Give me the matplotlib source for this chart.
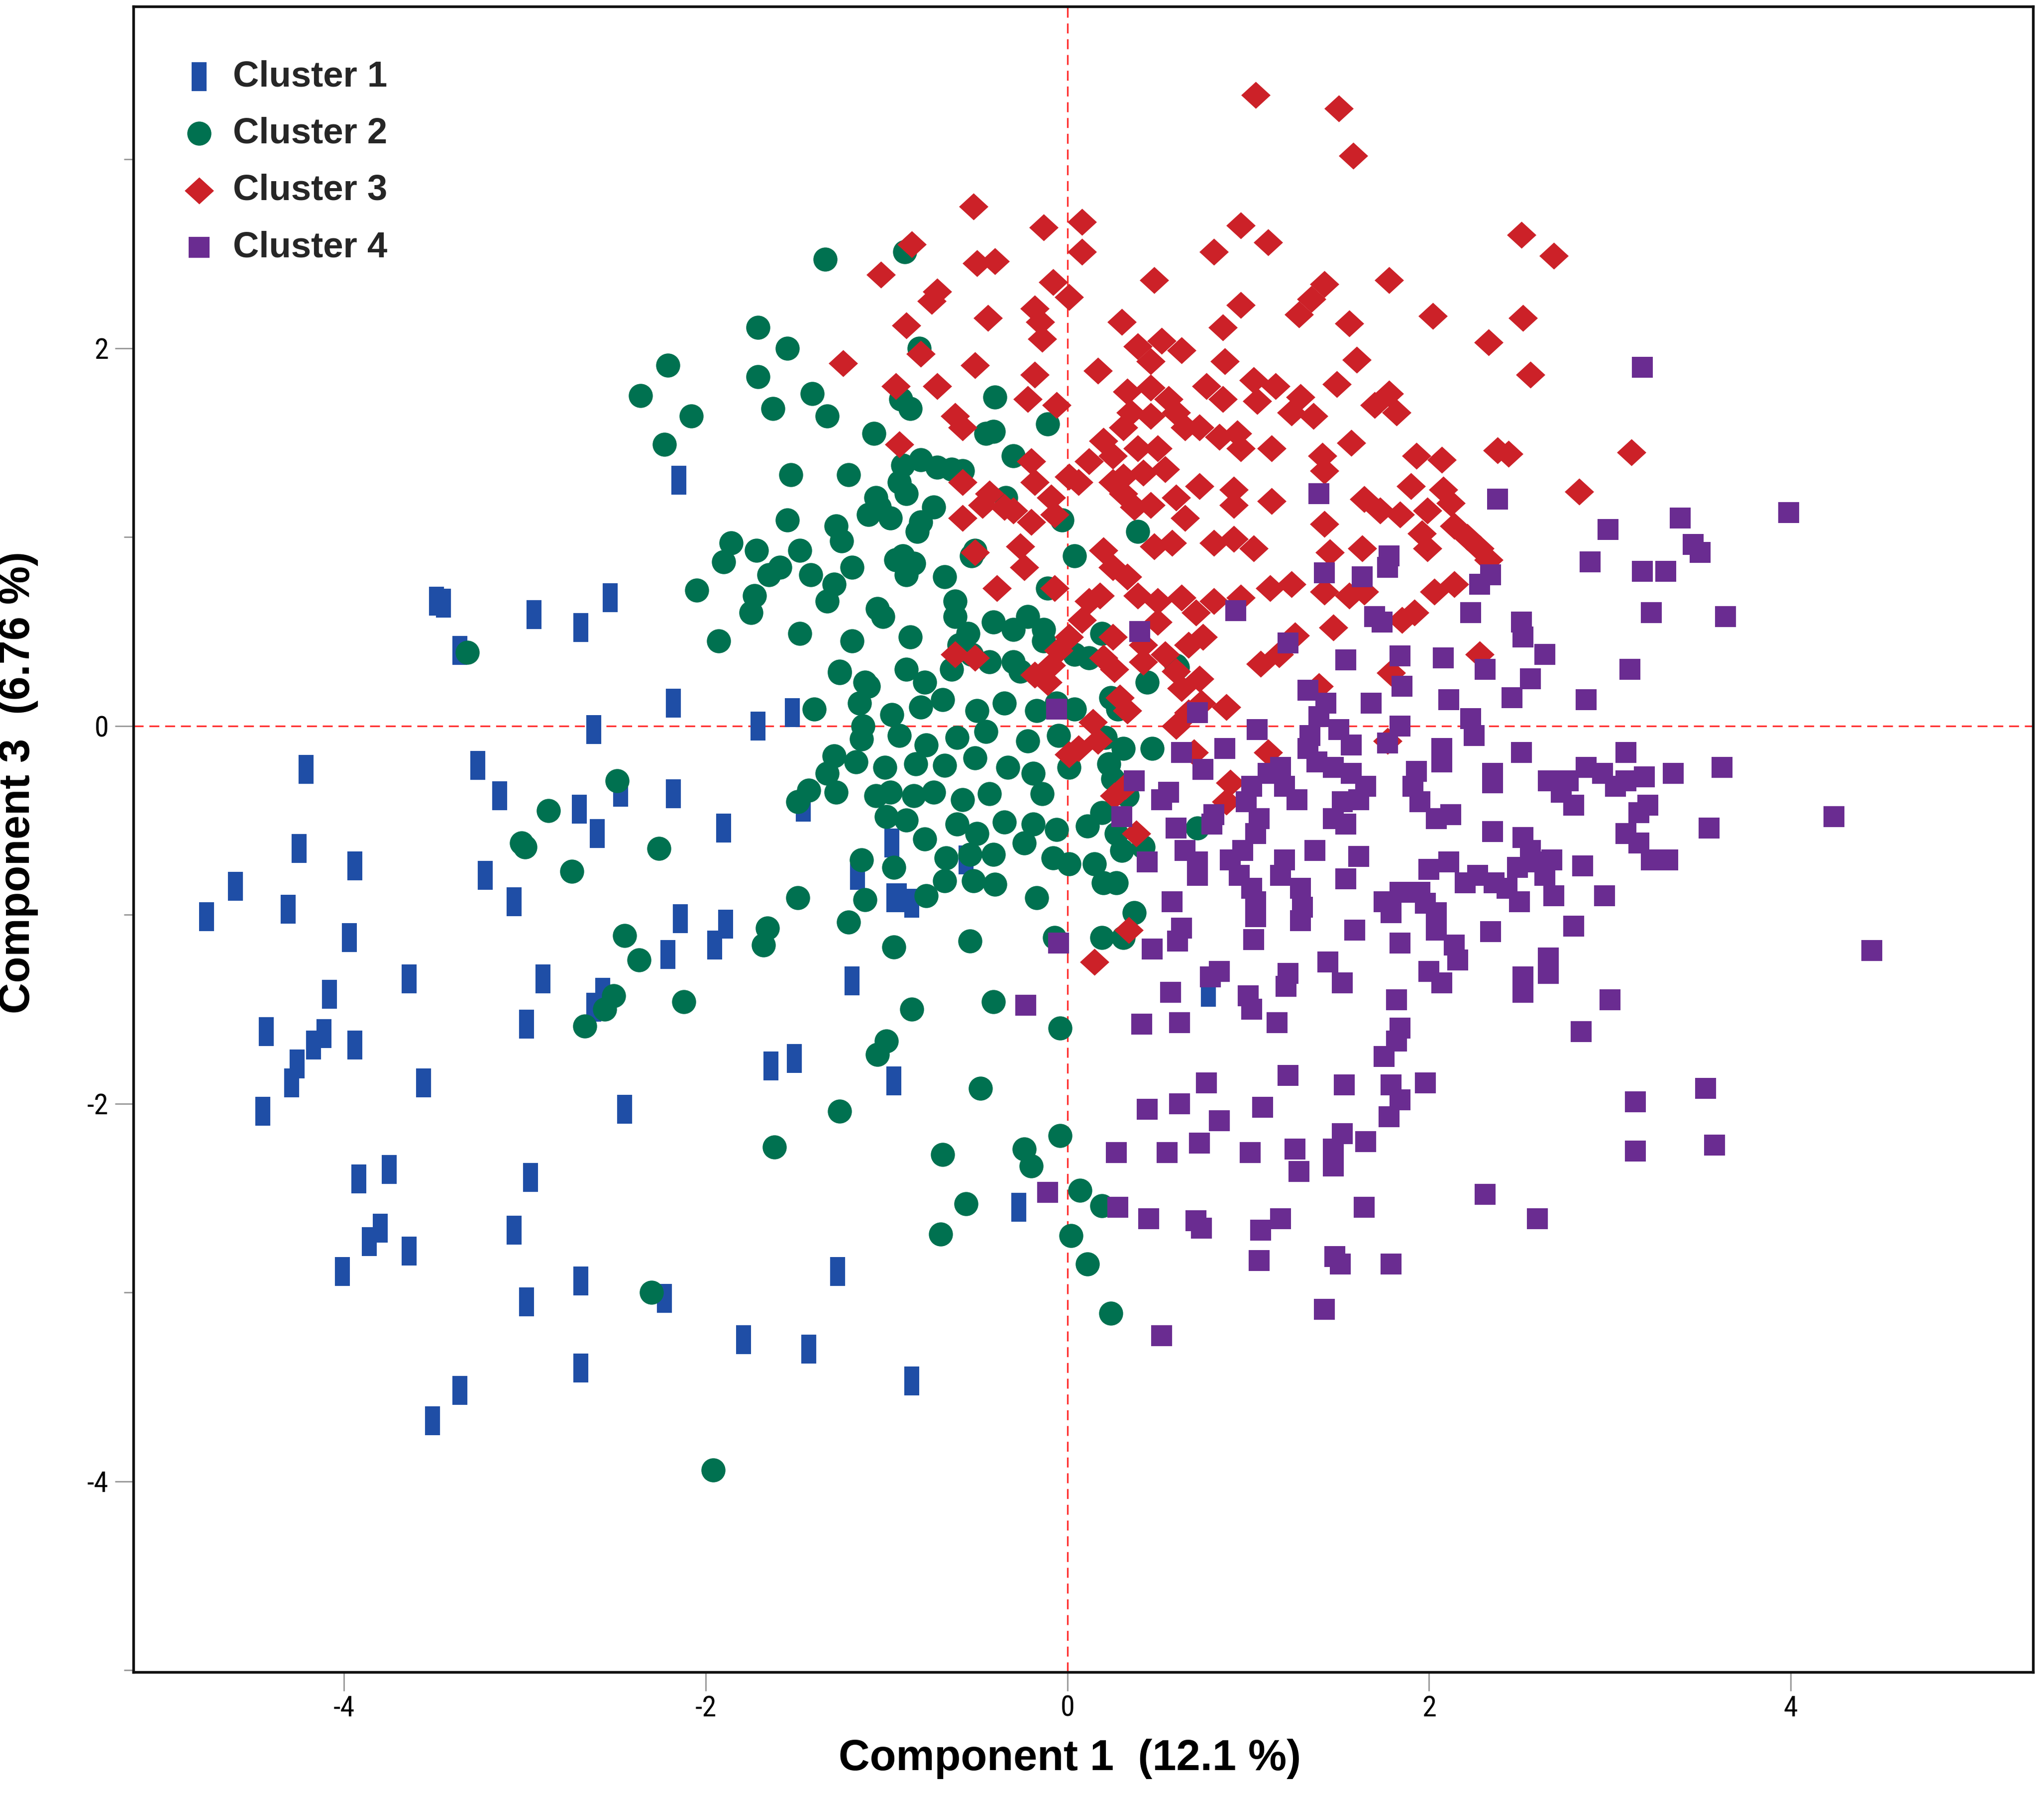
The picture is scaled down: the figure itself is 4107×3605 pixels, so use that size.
import numpy as np
import matplotlib
matplotlib.use('Agg')
import matplotlib.pyplot as plt
from matplotlib.path import Path
from matplotlib import font_manager

plt.rcParams['axes.unicode_minus'] = False

# cluster scores (Component 1, Component 3)
cluster1 = [
    (-2.15, 1.30), (-3.49, 0.66), (-3.45, 0.65), (-3.36, 0.40), (-2.95, 0.59), (-2.69, 0.52),
    (-2.53, 0.68), (-2.18, 0.12), (-2.62, -0.02), (-1.71, 0.00), (-1.52, 0.07), (-4.21, -0.23),
    (-3.26, -0.21), (-3.14, -0.37), (-2.70, -0.44), (-2.60, -0.57), (-2.47, -0.35), (-2.18, -0.36),
    (-1.90, -0.54), (-1.46, -0.43), (-4.25, -0.65), (-3.94, -0.74), (-3.22, -0.79), (-3.06, -0.93),
    (-4.76, -1.01), (-4.60, -0.85), (-4.31, -0.97), (-3.97, -1.12), (-2.14, -1.02), (-1.89, -1.05),
    (-1.95, -1.16), (-2.21, -1.21), (-2.90, -1.34), (-3.64, -1.34), (-4.08, -1.42), (-2.57, -1.41),
    (-2.62, -1.49), (-2.99, -1.58), (-4.43, -1.62), (-4.11, -1.63), (-4.17, -1.69), (-3.94, -1.69),
    (-4.26, -1.79), (-4.29, -1.89), (-3.56, -1.89), (-4.45, -2.04), (-2.45, -2.03), (-1.64, -1.80),
    (-1.51, -1.76), (-3.92, -2.40), (-3.75, -2.35), (-2.97, -2.39), (-3.80, -2.66), (-3.86, -2.73),
    (-3.64, -2.78), (-3.06, -2.67), (-4.01, -2.89), (-2.69, -2.94), (-2.99, -3.05), (-2.23, -3.03),
    (-1.27, -2.89), (-1.79, -3.25), (-1.43, -3.30), (-2.69, -3.40), (-3.36, -3.52), (-3.51, -3.68),
    (-0.86, -3.47), (-0.27, -2.55), (-1.19, -1.35), (-0.96, -1.88), (-0.97, -0.62), (-1.16, -0.79),
    (-0.96, -0.91), (-0.93, -0.91), (-0.86, -0.94), (-0.56, -0.71), (0.78, -1.41),
]

cluster2 = [
    (-1.34, 2.47), (-0.90, 2.51), (-1.71, 2.11), (-1.55, 2.00), (-1.71, 1.85), (-1.63, 1.68),
    (-1.41, 1.76), (-1.33, 1.64), (-0.82, 2.00), (-0.92, 1.73), (-0.87, 1.68), (-0.40, 1.74),
    (-1.07, 1.55), (-0.45, 1.55), (-0.41, 1.56), (-0.11, 1.60), (-0.30, 1.43), (-1.53, 1.33),
    (-1.21, 1.33), (-0.91, 1.38), (-0.81, 1.41), (-0.72, 1.37), (-0.64, 1.36), (-0.58, 1.35),
    (-0.93, 1.29), (-1.06, 1.21), (-0.89, 1.23), (-0.98, 1.10), (-1.04, 1.16), (-1.10, 1.12),
    (-0.74, 1.16), (-0.81, 1.08), (-0.83, 1.03), (-0.34, 1.21), (-0.03, 1.09), (-1.55, 1.09),
    (-1.28, 1.06), (-1.25, 0.98), (-1.72, 0.93), (-1.48, 0.93), (-1.59, 0.84), (-1.65, 0.80),
    (-1.42, 0.80), (-1.19, 0.84), (-1.29, 0.75), (-1.33, 0.66), (-0.95, 0.88), (-0.89, 0.80),
    (-0.85, 0.86), (-0.91, 0.90), (-0.68, 0.79), (-0.62, 0.66), (-0.62, 0.58), (-0.51, 0.93),
    (-0.53, 0.90), (0.04, 0.90), (0.39, 1.03), (-0.11, 0.73), (-1.73, 0.69), (-1.75, 0.60),
    (-1.05, 0.62), (-1.02, 0.58), (-1.48, 0.49), (-1.19, 0.45), (-0.87, 0.47), (-0.55, 0.49),
    (-0.60, 0.43), (-0.41, 0.55), (-0.30, 0.51), (-0.22, 0.58), (-0.13, 0.51), (-0.13, 0.45),
    (0.19, 0.49), (-1.26, 0.29), (-1.10, 0.21), (-0.89, 0.30), (-0.79, 0.23), (-0.64, 0.30),
    (-0.53, 0.38), (-0.43, 0.34), (-0.30, 0.34), (-0.26, 0.29), (0.04, 0.38), (0.12, 0.36),
    (0.60, 0.32), (0.44, 0.23), (-1.26, 0.28), (-1.12, 0.23), (-2.21, 1.91), (-2.36, 1.75),
    (-2.08, 1.64), (-2.23, 1.49), (-1.86, 0.97), (-1.90, 0.87), (-2.05, 0.72), (-1.93, 0.45),
    (-3.32, 0.39), (0.24, 0.15), (0.61, 0.31),
    (-1.40, 0.09), (-1.15, 0.12), (-0.97, 0.06), (-0.81, 0.10), (-0.69, 0.14), (-0.50, 0.08),
    (-0.35, 0.12), (-0.17, 0.08), (-0.06, 0.12), (0.04, 0.09), (0.28, 0.09), (-1.13, 0.00),
    (-1.14, -0.07), (-0.93, -0.05), (-0.78, -0.10), (-0.61, -0.06), (-0.45, -0.03), (-0.22, -0.08),
    (-0.05, -0.05), (0.21, -0.06), (0.31, -0.12), (0.47, -0.12), (-1.29, -0.16), (-1.33, -0.25),
    (-1.17, -0.19), (-1.01, -0.22), (-0.84, -0.20), (-0.68, -0.21), (-0.51, -0.17), (-0.33, -0.22),
    (-0.19, -0.25), (0.01, -0.22), (0.23, -0.20), (-1.43, -0.34), (-1.49, -0.40), (-1.28, -0.35),
    (-1.06, -0.37), (-0.98, -0.35), (-0.85, -0.37), (-0.74, -0.35), (-0.58, -0.39), (-0.43, -0.36),
    (-0.14, -0.36), (0.25, -0.28), (0.33, -0.37), (0.19, -0.46), (-1.00, -0.48), (-0.89, -0.50),
    (-0.61, -0.52), (-0.50, -0.57), (-0.35, -0.51), (-0.19, -0.52), (-0.06, -0.55), (0.11, -0.53),
    (0.27, -0.57), (0.72, -0.54), (-0.79, -0.60), (-0.67, -0.70), (-0.54, -0.68), (-0.41, -0.68),
    (-0.24, -0.62), (-0.08, -0.70), (0.01, -0.73), (0.15, -0.73), (0.30, -0.66), (0.42, -0.64),
    (-3.02, -0.62), (-3.00, -0.64), (-2.87, -0.45), (-2.74, -0.77), (-2.26, -0.65), (-2.49, -0.29),
    (-1.14, -0.71), (-0.96, -0.75), (-0.68, -0.82), (-0.52, -0.82), (-0.40, -0.84), (-0.17, -0.91),
    (0.20, -0.83), (0.27, -0.83), (-1.49, -0.91), (-1.12, -0.92), (-0.78, -0.90), (-1.21, -1.04),
    (-1.66, -1.07), (-1.68, -1.16), (-0.96, -1.17), (-0.54, -1.14), (-0.07, -1.12), (0.19, -1.12),
    (0.31, -1.12), (0.37, -0.99), (-2.45, -1.11), (-2.37, -1.24), (-2.51, -1.43), (-2.56, -1.50),
    (-2.67, -1.59), (-2.12, -1.46), (-0.86, -1.50), (-0.41, -1.46), (-0.04, -1.60), (-1.00, -1.67),
    (-1.05, -1.74), (-0.48, -1.92), (-1.26, -2.04), (-1.62, -2.23), (-0.69, -2.27), (-0.24, -2.24),
    (-0.20, -2.33), (-0.04, -2.17), (-0.56, -2.53), (-0.70, -2.69), (0.07, -2.46), (0.19, -2.54),
    (0.02, -2.70), (0.11, -2.85), (-2.30, -3.00), (0.24, -3.11), (-1.96, -3.94),
]

cluster3 = [
    (-0.52, 2.75), (-0.13, 2.64), (0.08, 2.67), (0.08, 2.51), (-0.86, 2.55), (-0.50, 2.45),
    (-0.40, 2.46), (-1.03, 2.39), (-0.72, 2.30), (-0.75, 2.25), (-0.08, 2.35), (0.01, 2.27),
    (0.96, 2.65), (0.81, 2.51), (0.48, 2.36), (0.96, 2.23), (-0.89, 2.12), (-0.44, 2.16),
    (-0.18, 2.21), (-0.15, 2.14), (-0.14, 2.05), (0.30, 2.14), (0.86, 2.11), (-0.81, 1.97),
    (-1.24, 1.92), (-0.51, 1.91), (-0.18, 1.86), (0.17, 1.88), (0.39, 2.01), (0.52, 2.04),
    (0.63, 1.99), (0.46, 1.93), (0.87, 1.93), (-0.95, 1.80), (-0.72, 1.80), (-0.22, 1.73),
    (-0.06, 1.70), (-0.62, 1.64), (-0.58, 1.58), (-0.93, 1.49), (0.33, 1.77), (0.46, 1.79),
    (0.56, 1.73), (0.35, 1.66), (0.46, 1.64), (0.60, 1.66), (0.65, 1.58), (0.77, 1.80),
    (0.86, 1.73), (0.73, 1.58), (0.84, 1.53), (0.94, 1.55), (0.96, 1.47), (0.20, 1.51),
    (0.31, 1.58), (0.12, 1.40), (0.25, 1.43), (0.39, 1.47), (0.50, 1.47), (0.54, 1.36),
    (0.42, 1.34), (0.31, 1.32), (0.25, 1.29), (0.01, 1.32), (-0.20, 1.40), (-0.18, 1.29),
    (-0.43, 1.23), (-0.58, 1.29), (-0.58, 1.10), (-0.47, 1.17), (-0.30, 1.14), (-0.26, 0.95),
    (-0.24, 0.84), (-0.09, 1.21), (-0.07, 1.12), (-0.20, 1.08), (0.06, 1.29), (0.31, 1.23),
    (0.37, 1.16), (0.46, 1.17), (0.60, 1.21), (0.73, 1.27), (0.92, 1.25), (0.92, 1.17),
    (0.65, 1.10), (0.48, 0.95), (0.58, 0.97), (0.81, 0.97), (0.92, 0.99), (0.20, 0.93),
    (0.25, 0.84), (0.18, 0.69), (0.33, 0.79), (0.39, 0.69), (0.50, 0.66), (0.63, 0.68),
    (0.71, 0.60), (0.81, 0.66), (0.96, 0.68), (-0.39, 0.73), (-0.51, 0.92), (-0.51, 0.36),
    (-0.07, 0.73), (0.12, 0.66), (0.08, 0.56), (0.01, 0.47), (-0.05, 0.40), (0.25, 0.47),
    (0.20, 0.36), (0.50, 0.55), (0.42, 0.43), (0.54, 0.38), (0.67, 0.43), (0.75, 0.47),
    (0.60, 0.29), (0.73, 0.25), (1.17, 0.38), (-0.09, 0.32), (-0.11, 0.23), (-0.62, 0.38),
    (-0.35, 1.16), (-0.18, 0.27),
    (1.04, 3.34), (1.50, 3.27), (1.58, 3.02), (1.11, 2.56), (1.78, 2.36), (1.42, 2.34),
    (1.35, 2.26), (1.28, 2.18), (1.56, 2.13), (2.02, 2.17), (2.51, 2.60), (2.69, 2.49),
    (2.52, 2.16), (2.33, 2.03), (2.56, 1.86), (1.60, 1.94), (1.49, 1.81), (1.03, 1.83),
    (1.15, 1.80), (1.05, 1.72), (1.29, 1.74), (1.36, 1.64), (1.24, 1.66), (1.78, 1.76),
    (1.82, 1.66), (1.70, 1.70), (1.57, 1.50), (1.13, 1.47), (1.41, 1.43), (1.42, 1.35),
    (1.93, 1.43), (2.07, 1.41), (2.38, 1.46), (2.44, 1.44), (3.12, 1.45), (2.83, 1.24),
    (1.90, 1.27), (2.08, 1.25), (1.13, 1.19), (1.42, 1.07), (1.64, 1.20), (1.73, 1.14),
    (1.84, 1.12), (1.99, 1.14), (2.12, 1.18), (2.14, 1.06), (1.96, 1.02), (1.99, 0.94),
    (2.21, 1.00), (2.28, 0.94), (2.33, 0.88), (1.03, 0.94), (1.45, 0.92), (1.63, 0.94),
    (1.12, 0.73), (1.24, 0.75), (1.42, 0.71), (1.56, 0.69), (1.64, 0.71), (2.03, 0.71),
    (2.14, 0.75), (1.85, 0.56), (1.92, 0.60), (1.26, 0.48), (1.47, 0.52),
    (2.28, 0.38), (1.79, 0.28), (1.39, 0.21), (1.77, -0.08), (1.11, -0.14), (0.70, -0.14),
    (0.90, -0.30), (0.88, -0.40), (0.26, -0.37), (0.38, -0.57), (0.34, -1.08), (0.15, -1.25),
    (0.88, 0.10), (0.74, 0.12), (0.63, 0.20), (0.29, 0.15), (0.33, 0.08), (0.60, 0.00),
    (0.17, -0.08), (1.07, 0.33), (0.42, 0.34), (0.26, 0.30), (0.06, -0.12), (0.01, -0.15),
    (0.14, 0.02), (0.32, -0.32), (0.67, 0.07),
]

cluster4 = [
    (3.23, 0.60), (3.64, 0.58), (2.23, 0.60), (2.51, 0.55), (2.52, 0.47), (2.64, 0.38),
    (3.11, 0.30), (1.70, 0.58), (1.84, 0.37), (2.08, 0.36), (2.31, 0.30), (2.56, 0.25),
    (2.46, 0.15), (2.87, 0.14), (2.11, 0.14), (1.85, 0.21), (1.68, 0.12), (1.54, 0.35),
    (1.33, 0.19), (1.43, 0.12), (1.39, 0.05), (1.05, -0.02), (1.84, 0.00), (2.23, 0.04),
    (2.25, -0.05), (1.50, -0.02), (1.34, -0.05), (1.33, -0.12), (1.38, -0.19), (1.47, -0.22),
    (1.57, -0.10), (1.57, -0.25), (1.65, -0.32), (1.61, -0.39), (1.52, -0.40), (1.47, -0.49),
    (1.54, -0.52), (0.87, -0.12), (0.63, -0.14), (0.75, -0.23), (0.37, -0.29), (0.56, -0.35),
    (0.52, -0.39), (1.02, -0.32), (1.11, -0.25), (1.18, -0.22), (1.20, -0.32), (1.27, -0.39),
    (0.99, -0.40), (1.06, -0.49), (1.04, -0.57), (0.97, -0.66), (0.90, -0.71), (0.95, -0.79),
    (1.02, -0.86), (1.04, -0.93), (1.04, -1.01), (1.03, -1.13), (0.81, -0.47), (0.80, -0.52),
    (0.60, -0.54), (0.65, -0.66), (0.72, -0.72), (0.72, -0.79), (0.44, -0.72), (0.58, -0.93),
    (1.77, -0.09), (1.93, -0.24), (1.91, -0.32), (1.95, -0.40), (2.04, -0.49), (2.12, -0.47),
    (2.07, -0.12), (2.07, -0.19), (2.35, -0.25), (2.35, -0.30), (2.51, -0.14), (2.66, -0.29),
    (2.73, -0.35), (2.80, -0.42), (2.77, -0.29), (2.87, -0.22), (2.96, -0.25), (3.03, -0.32),
    (3.09, -0.29), (3.19, -0.27), (3.21, -0.42), (3.16, -0.46), (3.35, -0.25), (3.09, -0.14),
    (3.62, -0.22), (3.55, -0.54), (3.09, -0.57), (3.16, -0.62), (3.23, -0.71), (3.32, -0.71),
    (2.35, -0.56), (2.52, -0.59), (2.56, -0.66), (2.60, -0.72), (2.68, -0.71), (2.64, -0.79),
    (2.69, -0.90), (2.85, -0.74), (2.97, -0.90), (2.11, -0.72), (2.20, -0.83), (2.27, -0.79),
    (2.36, -0.83), (2.43, -0.86), (2.50, -0.93), (2.49, -0.75), (2.00, -0.76), (1.61, -0.69),
    (1.54, -0.81), (1.37, -0.66), (1.20, -0.71), (1.18, -0.79), (1.29, -0.86), (1.30, -0.96),
    (1.29, -1.03), (1.75, -0.93), (1.84, -0.88), (1.95, -0.88), (1.79, -0.99), (1.98, -0.94),
    (2.04, -0.99), (2.04, -1.08), (2.14, -1.16), (2.16, -1.24), (2.00, -1.30), (2.07, -1.36),
    (1.59, -1.08), (1.84, -1.15), (2.34, -1.09), (2.80, -1.06), (0.63, -1.07), (0.61, -1.14),
    (0.47, -1.18), (1.44, -1.25), (1.22, -1.31), (1.21, -1.38), (1.52, -1.36), (0.84, -1.30),
    (0.79, -1.33), (0.57, -1.41), (1.00, -1.43), (1.02, -1.50), (1.16, -1.57), (0.41, -1.58),
    (0.62, -1.57), (1.82, -1.45), (1.84, -1.60), (1.82, -1.67), (1.75, -1.75), (2.52, -1.33),
    (2.66, -1.31), (2.52, -1.41), (2.66, -1.23), (3.00, -1.45), (2.84, -1.62), (0.77, -1.89),
    (1.22, -1.85), (1.53, -1.90), (1.79, -1.90), (1.98, -1.89), (3.53, -1.92),
    (3.18, 1.90), (1.39, 1.23), (2.38, 1.20), (2.99, 1.04), (3.39, 1.10), (3.46, 0.96),
    (3.50, 0.92), (2.89, 0.87), (3.18, 0.82), (3.31, 0.82), (1.42, 0.81), (1.63, 0.79),
    (1.78, 0.90), (1.77, 0.84), (2.34, 0.80), (2.28, 0.75), (1.74, 0.55),
    (0.40, 0.50), (0.93, 0.61), (1.22, 0.44), (0.72, 0.07), (-0.06, 0.09), (-0.05, -1.15),
    (0.30, -0.48),
    (3.99, 1.13), (4.24, -0.48), (4.45, -1.19), (-0.23, -1.48), (3.14, -1.99), (3.14, -2.25),
    (3.58, -2.22), (1.84, -1.98), (1.78, -2.07), (1.65, -2.20), (1.52, -2.16), (1.47, -2.24),
    (1.47, -2.33), (0.44, -2.03), (0.62, -2.00), (1.08, -2.02), (0.84, -2.09), (0.73, -2.21),
    (0.55, -2.26), (0.27, -2.26), (1.01, -2.26), (1.26, -2.24), (1.28, -2.36), (-0.11, -2.47),
    (0.28, -2.55), (0.45, -2.61), (0.71, -2.62), (0.74, -2.66), (1.07, -2.67), (1.18, -2.61),
    (1.64, -2.55), (2.31, -2.48), (2.60, -2.61), (1.06, -2.83), (1.48, -2.81), (1.51, -2.85),
    (1.79, -2.85), (1.42, -3.09), (0.52, -3.23),
]

labels = ['Cluster 1', 'Cluster 2', 'Cluster 3', 'Cluster 4']
colors = ['#1f4ea6', '#007150', '#cc2128', '#6a2c91']

x_ticks = [-4, -2, 0, 2, 4]
y_ticks = [-4, -2, 0, 2]
y_minor = [-5, -3, -1, 1, 3]


def pick_font(names):
    have = {f.name for f in font_manager.fontManager.ttflist}
    return [n for n in names if n in have] + ['DejaVu Sans']


narrow = pick_font(['Liberation Sans Narrow', 'Roboto Condensed', 'Open Sans Condensed'])
arial = pick_font(['Liberation Sans', 'Arial'])

# tall rectangle marker for cluster 1
rect = Path([(-0.26, -0.5), (0.26, -0.5), (0.26, 0.5), (-0.26, 0.5), (-0.26, -0.5)],
            [Path.MOVETO, Path.LINETO, Path.LINETO, Path.LINETO, Path.CLOSEPOLY])
diamond = Path([(0, -0.46), (0.5, 0), (0, 0.46), (-0.5, 0), (0, -0.46)],
               [Path.MOVETO, Path.LINETO, Path.LINETO, Path.LINETO, Path.CLOSEPOLY])
markers = [rect, 'o', diamond, 's']
sizes = [200, 135, 200, 100]

fig = plt.figure(figsize=(4107 / 300, 3605 / 300), dpi=300)
ax = fig.add_axes([0.0653, 0.068, 0.9293, 0.9284])

ax.axvline(0, color='#ff3030', lw=0.8, ls=(0, (6, 3.5)), zorder=1)
ax.axhline(0, color='#ff3030', lw=0.8, ls=(0, (6, 3.5)), zorder=1)

for pts, lab, col, mk, sz in zip([cluster1, cluster2, cluster3, cluster4], labels, colors, markers, sizes):
    arr = np.array(pts)
    ax.scatter(arr[:, 0], arr[:, 1], marker=mk, s=sz, color=col, linewidths=0, label=lab, zorder=2)

ax.set_xlim(-5.165, 5.34)
ax.set_ylim(-5.01, 3.81)
ax.set_xticks(x_ticks)
ax.set_yticks(y_ticks)
ax.set_yticks(y_minor, minor=True)
ax.set_xticklabels([str(t) for t in x_ticks], fontsize=14, family=narrow)
ax.set_yticklabels([str(t) for t in y_ticks], fontsize=14, family=narrow)
ax.tick_params(axis='both', which='major', direction='out', length=9, width=0.7,
               color='#9a9a9a', pad=2)
ax.tick_params(axis='y', which='major', pad=3)
ax.tick_params(axis='y', which='minor', direction='out', length=4.5, width=0.7, color='#9a9a9a')

for sp in ax.spines.values():
    sp.set_linewidth(1.3)
    sp.set_color('#111111')

ax.set_xlabel('Component 1  (12.1 %)', fontsize=20.8, fontweight='bold', family=arial)
ax.set_ylabel('Component 3  (6.76 %)', fontsize=20.8, fontweight='bold', family=arial)
ax.xaxis.set_label_coords(0.493, -0.040)
ax.yaxis.set_label_coords(-0.050, 0.534)

leg = ax.legend(loc='upper left', bbox_to_anchor=(0.025, 0.968), frameon=False,
                scatterpoints=1, handlelength=1.0, handletextpad=0.44, labelspacing=0.64,
                borderpad=0, borderaxespad=0, prop={'family': arial, 'weight': 'bold', 'size': 17.4})
for t in leg.get_texts():
    t.set_color('#262626')

fig.savefig('out.png', dpi=300, facecolor='white')
